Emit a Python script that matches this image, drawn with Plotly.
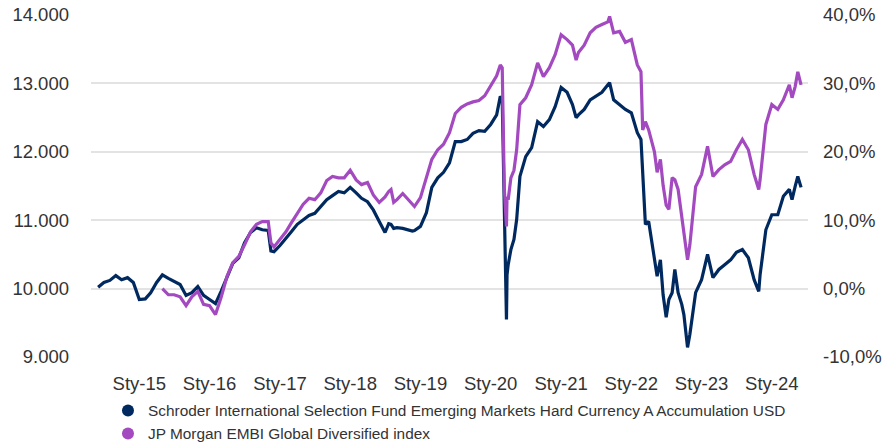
import plotly.graph_objects as go

dates = [
    "2014-06-01","2014-07-01","2014-08-01","2014-09-01","2014-10-01","2014-11-01","2014-12-01",
    "2015-01-01","2015-02-01","2015-03-01","2015-04-01","2015-05-01","2015-06-01","2015-07-01",
    "2015-08-01","2015-09-01","2015-10-01","2015-11-01","2015-12-01",
    "2016-01-01","2016-02-01","2016-03-01","2016-04-01","2016-05-01","2016-06-01","2016-07-01",
    "2016-08-01","2016-09-01","2016-10-01","2016-11-01","2016-11-15","2016-12-01",
    "2017-01-01","2017-02-01","2017-03-01","2017-04-01","2017-05-01","2017-06-01","2017-07-01",
    "2017-08-01","2017-09-01","2017-10-01","2017-11-01","2017-12-01",
    "2018-01-01","2018-02-01","2018-03-01","2018-04-01","2018-05-01","2018-06-01","2018-07-01",
    "2018-07-20","2018-08-01","2018-08-15","2018-09-01","2018-10-01","2018-11-01","2018-11-20",
    "2018-12-01",
    "2019-01-01","2019-02-01","2019-03-01","2019-04-01","2019-05-01","2019-06-01","2019-07-01",
    "2019-08-01","2019-09-01","2019-10-01","2019-11-01","2019-12-01",
    "2020-01-01","2020-02-01","2020-02-20","2020-03-01","2020-03-12","2020-03-19","2020-03-23",
    "2020-03-26","2020-04-01","2020-04-15","2020-05-01","2020-05-15","2020-06-01","2020-07-01",
    "2020-08-01","2020-09-01","2020-10-01","2020-11-01","2020-12-01",
    "2021-01-01","2021-02-01","2021-03-01","2021-03-20","2021-04-01","2021-05-01","2021-06-01",
    "2021-07-01","2021-08-01","2021-09-01","2021-09-10","2021-10-01","2021-11-01","2021-12-01",
    "2022-01-01","2022-02-01","2022-02-20","2022-03-01","2022-03-15","2022-04-01","2022-05-01",
    "2022-05-15","2022-06-01","2022-06-15","2022-07-01","2022-07-15","2022-08-01","2022-08-15",
    "2022-09-01","2022-09-20","2022-10-01","2022-10-20","2022-11-01","2022-12-01",
    "2023-01-01","2023-02-01","2023-03-01","2023-04-01","2023-05-01","2023-06-01","2023-07-01",
    "2023-08-01","2023-09-01","2023-10-01","2023-10-25","2023-11-01","2023-12-01",
    "2024-01-01","2024-02-01","2024-03-01","2024-04-01","2024-04-15","2024-05-01","2024-05-15",
    "2024-06-01",
]

fund = [
    10020,10090,10120,10190,10130,10160,10090,
    9840,9850,9940,10090,10200,10150,10100,
    10060,9900,9940,10030,9900,
    9840,9780,9960,10180,10370,10450,10670,
    10820,10890,10860,10850,10550,10540,
    10630,10730,10830,10940,11010,11070,11100,
    11200,11300,11360,11420,11400,
    11480,11400,11320,11270,11150,10980,10820,
    10950,10940,10880,10890,10880,10850,10840,
    10850,
    10910,11110,11480,11620,11700,11840,12150,
    12150,12180,12270,12310,12300,
    12400,12540,12810,12760,11300,10090,9550,
    10200,10350,10570,10720,11010,11640,11930,
    12060,12440,12370,12470,12660,
    12940,12870,12690,12500,12540,12620,12760,
    12820,12870,12980,13010,12760,12690,12620,
    12570,12280,12180,11590,10940,10980,10420,
    10180,10420,9910,9580,9840,9940,10280,
    9940,9770,9620,9140,9330,9940,
    10130,10500,10160,10280,10350,10420,10530,
    10570,10450,10130,9960,10200,10860,
    11080,11080,11350,11450,11300,11490,11640,
    11480,
]

index = [
    None,None,None,None,None,None,None,
    None,None,None,None,10000,9910,9910,
    9880,9750,9880,9960,9770,
    9750,9620,9870,10180,10380,10470,10640,
    10830,10940,10980,10980,10670,10610,
    10720,10830,10960,11100,11230,11320,11300,
    11400,11580,11640,11620,11620,
    11730,11590,11520,11550,11370,11260,11340,
    11420,11450,11260,11300,11390,11300,11230,
    11200,
    11330,11640,11890,12030,12110,12280,12560,
    12650,12700,12730,12750,12820,
    12970,13110,13270,13230,11450,11080,10910,
    11340,11300,11620,11730,12030,12690,12790,
    12980,13300,13100,13230,13420,
    13710,13640,13560,13340,13450,13560,13740,
    13820,13860,13900,13980,13740,13760,13600,
    13640,13270,13170,12320,12440,12320,12000,
    11700,11890,11510,11220,11160,11620,11590,
    11450,11080,10830,10420,10640,11490,
    11670,12080,11640,11740,11810,11860,12030,
    12180,12030,11670,11450,11590,12400,
    12690,12620,12760,12980,12790,12950,13170,
    12980,
]

tick_dates = ["2015-01-01","2016-01-01","2017-01-01","2018-01-01","2019-01-01",
              "2020-01-01","2021-01-01","2022-01-01","2023-01-01","2024-01-01"]
tick_labels = ["Sty-15","Sty-16","Sty-17","Sty-18","Sty-19",
               "Sty-20","Sty-21","Sty-22","Sty-23","Sty-24"]

left_ticks = [9000, 10000, 11000, 12000, 13000, 14000]
left_labels = ["9.000", "10.000", "11.000", "12.000", "13.000", "14.000"]
right_ticks = [-10, 0, 10, 20, 30, 40]
right_labels = ["-10,0%", "0,0%", "10,0%", "20,0%", "30,0%", "40,0%"]

names = ["Schroder International Selection Fund Emerging Markets Hard Currency A Accumulation USD",
         "JP Morgan EMBI Global Diversified index"]
NAVY = "#00295f"
PURPLE = "#a44ac0"
FONT = "Liberation Sans, Arial, sans-serif"

assert len(dates) == len(fund) == len(index)

fig = go.Figure()
fig.add_trace(go.Scatter(x=dates, y=fund, mode="lines", line=dict(color=NAVY, width=3.2),
                         showlegend=False, hoverinfo="skip"))
fig.add_trace(go.Scatter(x=dates, y=index, mode="lines", line=dict(color=PURPLE, width=3.2),
                         showlegend=False, hoverinfo="skip", connectgaps=False))
# right axis carrier (invisible)
fig.add_trace(go.Scatter(x=[dates[0], dates[0]], y=[right_ticks[0], right_ticks[-1]], yaxis="y2",
                         mode="lines", line=dict(width=0), opacity=0, showlegend=False,
                         hoverinfo="skip"))
# legend entries with circle markers
for nm, col in zip(names, [NAVY, PURPLE]):
    fig.add_trace(go.Scatter(x=[None], y=[None], mode="markers", name=nm,
                             marker=dict(color=col, size=15, symbol="circle")))

fig.update_layout(
    width=893, height=442,
    margin=dict(l=91, r=85, t=15, b=85, autoexpand=False),
    paper_bgcolor="white", plot_bgcolor="white",
    font=dict(family=FONT, color="#333333", size=18),
    hovermode=False,
    xaxis=dict(range=["2014-04-25", "2024-07-07"], tickvals=tick_dates, ticktext=tick_labels,
               showgrid=False, zeroline=False, showline=False, ticks="", automargin=False,
               tickfont=dict(size=18.5, color="#333333"), ticklabelstandoff=13),
    yaxis=dict(range=[9000, 14000], tickvals=left_ticks, ticktext=left_labels,
               showgrid=True, gridcolor="#e3e3e3", gridwidth=2, zeroline=False, automargin=False,
               showline=False, ticks="", tickfont=dict(size=18.5, color="#333333"),
               ticklabelstandoff=21),
    yaxis2=dict(range=[-10, 40], tickvals=right_ticks, ticktext=right_labels,
                overlaying="y", side="right", showgrid=False, zeroline=False, automargin=False,
                showline=False, ticks="", tickfont=dict(size=18.5, color="#333333"),
                ticklabelstandoff=14),
    legend=dict(orientation="v", x=0.0237, xanchor="left", y=-0.108, yanchor="top",
                font=dict(size=15.4, color="#333333"), itemsizing="constant",
                bgcolor="rgba(0,0,0,0)", tracegroupgap=0),
)

fig.write_html("out.html", config={"displayModeBar": False},
               post_script="document.body.style.margin='0';")
